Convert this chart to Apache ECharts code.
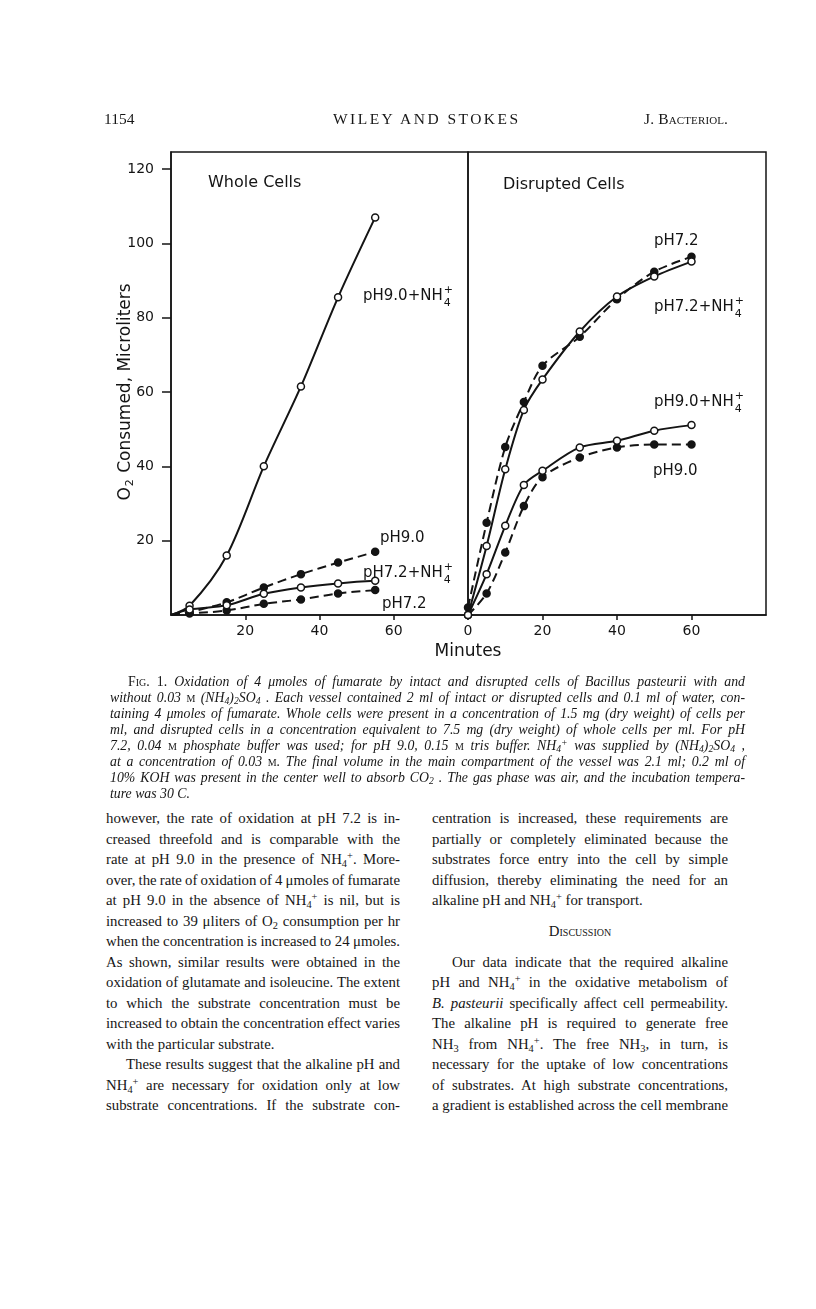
<!DOCTYPE html>
<html>
<head>
<meta charset="utf-8">
<script src="https://cdn.jsdelivr.net/npm/echarts@6/dist/echarts.min.js"></script>
<style>
html, body { margin: 0; padding: 0; background: #fff; }
#page { position: relative; width: 816px; height: 1309px; overflow: hidden; color: #161616; font-family: "Liberation Serif", serif; }
#chart { position: absolute; left: 0; top: 0; width: 816px; height: 690px; }
.ln { position: absolute; white-space: nowrap; display: inline-block; }
.body { font-size: 14.8px; line-height: 20px; }
.cap { font-size: 13.8px; line-height: 16px; font-style: italic; }
.sc { font-variant: small-caps; font-style: normal; }
.up { font-style: normal; }
.lo { font-size: 70%; vertical-align: -0.25em; line-height: 0; }
.hi { font-size: 70%; vertical-align: 0.45em; line-height: 0; }
</style>
</head>
<body>
<div id="page">
  <div id="chart"></div>
</div>

<script>
// whole cells, minutes and microliters O2
const wholeMinutes = [0, 5, 15, 25, 35, 45, 55];
const wholePh90Nh4 = [0, 2.5, 16, 40, 61.5, 85.5, 107];
const wholePh90 = [0, 0.8, 3.4, 7.4, 11, 14.1, 17];
const wholePh72Nh4 = [0, 1.5, 2.6, 5.7, 7.4, 8.5, 9.2];
const wholePh72 = [0, 0.4, 1.2, 3, 4.2, 5.8, 6.7];

// disrupted cells
const disruptedMinutes = [0, 5, 10, 15, 20, 30, 40, 50, 60];
const disruptedPh72 = [2, 24.8, 45.2, 57.3, 67.1, 74.9, 85, 92.4, 96.4];
const disruptedPh72Nh4 = [0, 18.6, 39.2, 55.2, 63.4, 76.3, 85.7, 91.1, 95.1];
const disruptedPh90Nh4 = [0, 11, 24, 35, 38.8, 45.1, 46.9, 49.6, 51.1];
const disruptedPh90 = [0, 5.8, 16.8, 29.3, 37.1, 42.4, 45.1, 45.9, 45.9];

const yTicks = [20, 40, 60, 80, 100, 120];
const wholeXTicks = [20, 40, 60];
const disruptedXTicks = [0, 20, 40, 60];

const INK = '#141414';
const SANS = '"DejaVu Sans", sans-serif';
const LABEL_SIZE = 15;

// ---- page text ----
const NH4 = 'NH<span class="lo">4</span><span class="hi">+</span>';
const header = [
  { html: '1154', x: 104, y: 109, size: 15.5 },
  { html: 'WILEY AND STOKES', x: 333, y: 109, size: 15.5, w: 185 },
  { html: 'J. <span class="sc">Bacteriol.</span>', x: 644, y: 109, size: 15.5, w: 84 }
];
const captionLines = [
  '<span class="sc">Fig.</span> <span class="up">1.</span> Oxidation of 4 μmoles of fumarate by intact and disrupted cells of Bacillus pasteurii with and',
  'without 0.03 <span class="sc">m</span> (NH<span class="lo">4</span>)<span class="lo">2</span>SO<span class="lo">4</span> . Each vessel contained 2 ml of intact or disrupted cells and 0.1 ml of water, con-',
  'taining 4 μmoles of fumarate. Whole cells were present in a concentration of 1.5 mg (dry weight) of cells per',
  'ml, and disrupted cells in a concentration equivalent to 7.5 mg (dry weight) of whole cells per ml. For pH',
  '7.2, 0.04 <span class="sc">m</span> phosphate buffer was used; for pH 9.0, 0.15 <span class="sc">m</span> tris buffer. NH<span class="lo">4</span><span class="hi">+</span> was supplied by (NH<span class="lo">4</span>)<span class="lo">2</span>SO<span class="lo">4</span> ,',
  'at a concentration of 0.03 <span class="sc">m</span>. The final volume in the main compartment of the vessel was 2.1 ml; 0.2 ml of',
  '10% KOH was present in the center well to absorb CO<span class="lo">2</span> . The gas phase was air, and the incubation tempera-',
  'ture was 30 C.'
];
const leftCol = [
  'however, the rate of oxidation at pH 7.2 is in-',
  'creased threefold and is comparable with the',
  'rate at pH 9.0 in the presence of ' + NH4 + '. More-',
  'over, the rate of oxidation of 4 μmoles of fumarate',
  'at pH 9.0 in the absence of ' + NH4 + ' is nil, but is',
  'increased to 39 μliters of O<span class="lo">2</span> consumption per hr',
  'when the concentration is increased to 24 μmoles.',
  'As shown, similar results were obtained in the',
  'oxidation of glutamate and isoleucine. The extent',
  'to which the substrate concentration must be',
  'increased to obtain the concentration effect varies',
  '*with the particular substrate.',
  '>These results suggest that the alkaline pH and',
  NH4 + ' are necessary for oxidation only at low',
  'substrate concentrations. If the substrate con-'
];
const rightCol = [
  'centration is increased, these requirements are',
  'partially or completely eliminated because the',
  'substrates force entry into the cell by simple',
  'diffusion, thereby eliminating the need for an',
  '*alkaline pH and ' + NH4 + ' for transport.',
  null,
  null,
  '>Our data indicate that the required alkaline',
  'pH and ' + NH4 + ' in the oxidative metabolism of',
  '<i>B. pasteurii</i> specifically affect cell permeability.',
  'The alkaline pH is required to generate free',
  'NH<span class="lo">3</span> from ' + NH4 + '. The free NH<span class="lo">3</span>, in turn, is',
  'necessary for the uptake of low concentrations',
  'of substrates. At high substrate concentrations,',
  'a gradient is established across the cell membrane'
];

const page = document.getElementById('page');
function addLine(html, cls, x, top, width, justify, size) {
  const d = document.createElement('div');
  d.className = 'ln ' + cls;
  d.innerHTML = html;
  d.style.left = x + 'px';
  d.style.top = top + 'px';
  if (size) d.style.fontSize = size + 'px';
  page.appendChild(d);
  if (width) {
    const w = d.getBoundingClientRect().width;
    const spaces = (d.textContent.match(/ /g) || []).length;
    if (justify && spaces) d.style.wordSpacing = ((width - w) / spaces) + 'px';
    else if (!justify) d.style.letterSpacing = ((width - w) / Math.max(1, d.textContent.length - 1)) + 'px';
  }
  return d;
}

header.forEach(h => addLine(h.html, 'body', h.x, h.y, h.w, false, h.size));

captionLines.forEach((t, i) => {
  const x = i === 0 ? 128 : 110;
  addLine(t, 'cap', x, 674 + i * 16, i === captionLines.length - 1 ? 0 : 745 - x, true);
});

function column(lines, x0, width) {
  lines.forEach((t, i) => {
    if (t === null) return;
    let x = x0, w = width, just = true;
    if (t[0] === '*') { t = t.slice(1); just = false; w = 0; }
    if (t[0] === '>') { t = t.slice(1); x = x0 + 20; w = width - 20; }
    addLine(t, 'body', x, 808 + i * 20.5, w, just);
  });
}
column(leftCol, 106, 294);
column(rightCol, 432, 296);
const disc = addLine('<span class="sc">Discussion</span>', 'body', 0, 921, 0, false);
disc.style.left = (580 - disc.getBoundingClientRect().width / 2) + 'px';

// ---- chart ----
const ctx = document.createElement('canvas').getContext('2d');
function textWidth(s, size) {
  ctx.font = size + 'px "DejaVu Sans"';
  return ctx.measureText(s).width;
}

function txt(s, x, y, size, align) {
  return {
    type: 'text', x: x, y: y, silent: true,
    style: { text: s, fill: INK, fontSize: size, fontFamily: SANS, align: align || 'left', verticalAlign: 'middle' }
  };
}
function nhLabel(x, y, main) {
  const w = textWidth(main, LABEL_SIZE);
  return [
    txt(main, x, y, LABEL_SIZE),
    txt('+', x + w + 1, y - 6, 11),
    txt('4', x + w + 1, y + 7, 11)
  ];
}

function pairs(xs, ys, markFirst) {
  return xs.map((x, i) => (i === 0 && !markFirst) ? { value: [x, ys[i]], symbol: 'none' } : [x, ys[i]]);
}
function curve(idx, xs, ys, open, dashed, markFirst) {
  return {
    type: 'line', xAxisIndex: idx, yAxisIndex: idx,
    data: pairs(xs, ys, markFirst),
    smooth: 0.3,
    symbol: 'circle', symbolSize: 7,
    lineStyle: { color: INK, width: 2, type: dashed ? [9, 5] : 'solid' },
    itemStyle: { color: open ? '#fff' : INK, borderColor: INK, borderWidth: 1.5 },
    z: open ? 3 : 2
  };
}

function xAxis(idx, ticks) {
  return {
    gridIndex: idx, type: 'value', min: 0, max: 80,
    axisLine: { lineStyle: { color: INK, width: 1.5 } },
    axisTick: { show: true, length: 5, customValues: ticks, lineStyle: { color: INK, width: 1.5 } },
    axisLabel: { customValues: ticks, margin: 9, color: INK, fontSize: 14, fontFamily: SANS },
    splitLine: { show: false }
  };
}
function yAxis(idx, withLabels) {
  return {
    gridIndex: idx, type: 'value', min: 0, max: 124.6,
    axisLine: { show: withLabels, lineStyle: { color: INK, width: 1.5 } },
    axisTick: { show: withLabels, length: 9, customValues: yTicks, lineStyle: { color: INK, width: 1.5 } },
    axisLabel: { show: withLabels, customValues: yTicks, margin: 17, color: INK, fontSize: 14, fontFamily: SANS },
    splitLine: { show: false }
  };
}

const chart = echarts.init(document.getElementById('chart'), null, { renderer: 'canvas' });
chart.setOption({
  animation: false,
  backgroundColor: 'transparent',
  grid: [
    { left: 171, top: 152, width: 297, height: 463, show: true, borderColor: INK, borderWidth: 1.5 },
    { left: 468, top: 152, width: 298, height: 463, show: true, borderColor: INK, borderWidth: 1.5 }
  ],
  xAxis: [xAxis(0, wholeXTicks), xAxis(1, disruptedXTicks)],
  yAxis: [yAxis(0, true), yAxis(1, false)],
  series: [
    curve(0, wholeMinutes, wholePh90Nh4, true, false, false),
    curve(0, wholeMinutes, wholePh90, false, true, false),
    curve(0, wholeMinutes, wholePh72Nh4, true, false, false),
    curve(0, wholeMinutes, wholePh72, false, true, false),
    curve(1, disruptedMinutes, disruptedPh72, false, true, true),
    curve(1, disruptedMinutes, disruptedPh72Nh4, true, false, true),
    curve(1, disruptedMinutes, disruptedPh90Nh4, true, false, true),
    curve(1, disruptedMinutes, disruptedPh90, false, true, true)
  ],
  graphic: [
    txt('Whole Cells', 208, 183, 16),
    txt('Disrupted Cells', 503, 185, 16),
    ...nhLabel(363, 296, 'pH9.0+NH'),
    txt('pH9.0', 380, 538, LABEL_SIZE),
    ...nhLabel(363, 573, 'pH7.2+NH'),
    txt('pH7.2', 382, 604, LABEL_SIZE),
    txt('pH7.2', 654, 241, LABEL_SIZE),
    ...nhLabel(654, 307, 'pH7.2+NH'),
    ...nhLabel(654, 402, 'pH9.0+NH'),
    txt('pH9.0', 653, 471, LABEL_SIZE),
    txt('Minutes', 468, 652, 17, 'center'),
    {
      type: 'text', x: 126, y: 392, rotation: Math.PI / 2, silent: true,
      style: {
        text: '{a|O}{b|2}{a| Consumed, Microliters}',
        align: 'center', verticalAlign: 'middle', fill: INK,
        rich: {
          a: { fontSize: 17, fontFamily: SANS, fill: INK, lineHeight: 20 },
          b: { fontSize: 11, fontFamily: SANS, fill: INK, lineHeight: 20, padding: [9, 1, 0, 1] }
        }
      }
    }
  ]
});
</script>
</body>
</html>
